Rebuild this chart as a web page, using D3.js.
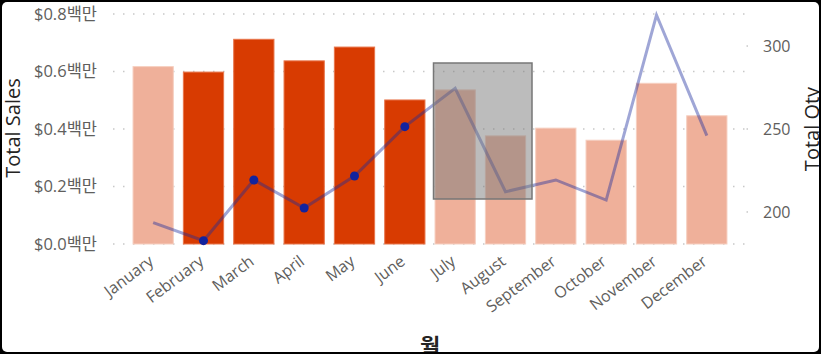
<!DOCTYPE html>
<html>
<head>
<meta charset="utf-8">
<script src="https://cdn.jsdelivr.net/npm/d3@7"></script>
<style>
  html, body { margin: 0; padding: 0; background: #000; }
  svg { display: block; }
  text { font-family: "Open Sans", "Noto Sans CJK KR", sans-serif; }
</style>
</head>
<body>
<svg id="chart" width="821" height="354"></svg>
<script>
const months = ["January", "February", "March", "April", "May", "June",
  "July", "August", "September", "October", "November", "December"];
const totalSales = [617000, 598000, 712000, 637000, 685000, 501000,
  536000, 376000, 403000, 361000, 559000, 446000];
const totalQty = [193.6, 182.7, 219.3, 202.4, 221.7, 251.4,
  274.5, 212.2, 219.3, 207.2, 318.7, 246.0];
const selected = [false, true, true, true, true, true,
  false, false, false, false, false, false];
const salesTicks = [0, 200000, 400000, 600000, 800000];
const qtyTicks = [200, 250, 300];

const W = 821, H = 354;
const svg = d3.select("#chart");

// card
svg.append("rect").attr("x", 2).attr("y", 2).attr("width", W - 4).attr("height", H - 4)
  .attr("rx", 5).attr("fill", "#fff");

const x = d3.scaleBand().domain(months).range([128, 732]).paddingInner(0.2).paddingOuter(0.1);
const ySales = d3.scaleLinear().domain([0, 800000]).range([244, 14]);
const yQty = d3.scaleLinear().domain([180.7, 319.3]).range([244, 14]);

// gridlines
svg.append("g").selectAll("line").data(salesTicks).join("line")
  .attr("x1", 113).attr("x2", 748)
  .attr("y1", d => ySales(d)).attr("y2", d => ySales(d))
  .attr("stroke", "#c8c8c8").attr("stroke-width", 1.5)
  .attr("stroke-dasharray", "1.5,8.5");

// left axis labels
svg.append("g").selectAll("text").data(salesTicks).join("text")
  .attr("x", 97).attr("y", d => ySales(d)).attr("dy", "0.35em")
  .attr("text-anchor", "end").attr("fill", "#605e5c").style("font-size", "16.5px")
  .text(d => `$${(d / 1e6).toFixed(1)}백만`);

// right axis labels + dots
svg.append("g").selectAll("text").data(qtyTicks).join("text")
  .attr("x", 763).attr("y", d => yQty(d)).attr("dy", "0.35em")
  .attr("fill", "#605e5c").style("font-size", "16px")
  .text(d => d);
svg.append("g").selectAll("rect").data(qtyTicks).join("rect")
  .attr("x", 746.5).attr("y", d => yQty(d) - 0.75).attr("width", 1.5).attr("height", 1.5)
  .attr("fill", "#c8c8c8");

// bars
svg.append("g").selectAll("rect").data(months).join("rect")
  .attr("x", d => x(d)).attr("width", x.bandwidth())
  .attr("y", (d, i) => ySales(totalSales[i]))
  .attr("height", (d, i) => ySales(0) - ySales(totalSales[i]))
  .attr("fill", (d, i) => selected[i] ? "#d83b01" : "#efb09a")
  .attr("stroke", (d, i) => selected[i] ? "#e8764c" : "#f6cfc0")
  .attr("stroke-width", 1);

// line
const line = d3.line()
  .x((d, i) => x(months[i]) + x.bandwidth() / 2)
  .y(d => yQty(d));
svg.append("path").datum(totalQty)
  .attr("d", line).attr("fill", "none")
  .attr("stroke", "#1a2a9e").attr("stroke-opacity", 0.42).attr("stroke-width", 3)
  .attr("stroke-linejoin", "miter");

svg.append("g").selectAll("circle")
  .data(totalQty.map((v, i) => ({ v, i })).filter(d => selected[d.i]))
  .join("circle")
  .attr("cx", d => x(months[d.i]) + x.bandwidth() / 2)
  .attr("cy", d => yQty(d.v)).attr("r", 4.5)
  .attr("fill", "#12239e");

// selection box
svg.append("rect").attr("x", 433.5).attr("y", 63).attr("width", 98.5).attr("height", 136)
  .attr("fill", "#7a7a7a").attr("fill-opacity", 0.5)
  .attr("stroke", "#777").attr("stroke-width", 1.5);

// x tick labels
svg.append("g").selectAll("text").data(months).join("text")
  .attr("transform", d => `translate(${x(d) + x.bandwidth() / 2 - 2},${259}) rotate(-37)`)
  .attr("text-anchor", "end").attr("dy", "0.35em")
  .attr("fill", "#605e5c").style("font-size", "16px")
  .text(d => d);

// axis titles
svg.append("text").attr("transform", "translate(13,128) rotate(-90)")
  .attr("text-anchor", "middle").attr("dy", "0.35em")
  .attr("fill", "#252423").style("font-size", "20px").text("Total Sales");
svg.append("text").attr("transform", "translate(812,129) rotate(-90)")
  .attr("text-anchor", "middle").attr("dy", "0.35em")
  .attr("fill", "#252423").style("font-size", "20px").text("Total Qty");
svg.append("text").attr("x", 430).attr("y", 354)
  .attr("text-anchor", "middle")
  .attr("fill", "#252423").style("font-size", "22px").style("font-weight", "bold").text("월");

// frame border
svg.append("path")
  .attr("d", `M0,0H${W}V${H}H0Z M2,2H${W - 2}V${H - 2}H2Z`)
  .attr("fill", "#000").attr("fill-rule", "evenodd");
</script>
</body>
</html>
